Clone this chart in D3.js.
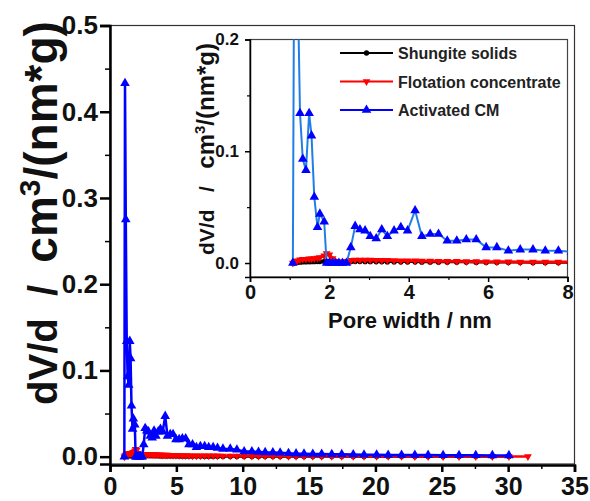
<!DOCTYPE html>
<html>
<head>
<meta charset="utf-8">
<script src="https://cdn.jsdelivr.net/npm/d3@7"></script>
<style>
  body { margin: 0; background: #fff; }
  text { font-family: Arial, 'Liberation Sans', sans-serif; font-weight: bold; white-space: pre; }
</style>
</head>
<body>
<div id="graph"></div>
<script>
'use strict';
// pore width grid (nm) shared by the three samples
var poreWidth = [1.08, 1.13, 1.19, 1.26, 1.33, 1.41, 1.49, 1.55, 1.62, 1.70, 1.76, 1.87, 1.93, 2.00,
  2.08, 2.16, 2.24, 2.33, 2.43, 2.54, 2.65, 2.77, 2.90, 3.03, 3.18, 3.32, 3.46, 3.63, 3.80, 3.97,
  4.16, 4.33, 4.54, 4.75, 4.97, 5.21, 5.45, 5.70, 5.95, 6.22, 6.51, 6.81, 7.13, 7.44, 7.77, 8.10,
  8.51, 9.06, 9.56, 10.11, 10.69, 11.19, 11.69, 12.27, 12.82, 13.45, 14.02, 14.62, 15.28, 15.95,
  16.71, 17.46, 18.33, 19.14, 20.09, 20.96, 21.97, 22.97, 23.97, 25.10, 26.30, 27.56, 28.81, 30.06];
// flotation concentrate has one more point at the end
var poreWidthTail = [31.49];

var shungite = [0, 0.0003, 0.0005, 0.0008, 0.001, 0.001, 0.0011, 0.0012, 0.0012, 0.0013, 0.0013, 0.0014,
  0.0015, 0.0014, 0.0012, 0.001, 0.0009, 0.0009, 0.001, 0.0012, 0.0013, 0.0013, 0.0012, 0.0012, 0.0011,
  0.0011, 0.001, 0.001, 0.0009, 0.0009, 0.0009, 0.0008, 0.0008, 0.0007, 0.0007, 0.0006, 0.0006, 0.0005,
  0.0005, 0.0004, 0.0004, 0.0004, 0.0003, 0.0003, 0.0003, 0.0003, 0.0003, 0.0002, 0.0002, 0.0002,
  0.0002, 0.0002, 0.0002, 0.0002, 0.0001, 0.0001, 0.0001, 0.0001, 0.0001, 0.0001, 0.0001, 0.0001,
  0.0001, 0.0001, 0.0001, 0.0001, 0.0001, 0.0001, 0.0001, 0.0001, 0.0001, 0.0001, 0.0001, 0.0001];

var flotation = [0, 0.001, 0.002, 0.003, 0.0035, 0.0035, 0.0038, 0.0038, 0.004, 0.0045, 0.005, 0.0065,
  0.0085, 0.0075, 0.004, 0.0015, 0.001, 0.0012, 0.0015, 0.0025, 0.0028, 0.0028, 0.0028, 0.0027, 0.0026,
  0.0025, 0.0024, 0.0022, 0.0021, 0.002, 0.002, 0.0019, 0.0018, 0.0017, 0.0016, 0.0015, 0.0014, 0.0013,
  0.0012, 0.0011, 0.0011, 0.001, 0.001, 0.001, 0.001, 0.001, 0.0009, 0.0009, 0.0009, 0.0008, 0.0008,
  0.0008, 0.0007, 0.0007, 0.0007, 0.0006, 0.0006, 0.0006, 0.0005, 0.0005, 0.0005, 0.0005, 0.0004,
  0.0004, 0.0004, 0.0004, 0.0004, 0.0003, 0.0003, 0.0003, 0.0003, 0.0003, 0.0003, 0.0003, 0.0003];

var activated = [0, 0.433, 0.275, 0.134, 0.093, 0.083, 0.134, 0.114, 0.059, 0.032, 0.044, 0.037, 0,
  0, 0, 0, 0, 0, 0, 0.014, 0.033, 0.030, 0.029, 0.024, 0.022, 0.030, 0.024, 0.029, 0.032, 0.029,
  0.047, 0.024, 0.026, 0.026, 0.020, 0.020, 0.021, 0.021, 0.014, 0.014, 0.011, 0.012, 0.012, 0.011,
  0.011, 0.010, 0.009, 0.009, 0.008, 0.006, 0.006, 0.0055, 0.005, 0.0048, 0.0045, 0.004, 0.0035,
  0.0033, 0.003, 0.003, 0.0028, 0.0027, 0.0025, 0.0023, 0.0022, 0.002, 0.002, 0.0019, 0.0018, 0.0017,
  0.0016, 0.0016, 0.0015, 0.0015];

var seriesNames = ['Shungite solids', 'Flotation concentrate', 'Activated CM'];
var mainXTicks = [0, 5, 10, 15, 20, 25, 30, 35];
var mainYTicks = [0, 0.1, 0.2, 0.3, 0.4, 0.5];
var insetXTicks = [0, 2, 4, 6, 8];
var insetYTicks = [0, 0.1, 0.2];

function pairs(xs, ys) {
  return ys.map(function(v, i) { return [xs[i], v]; });
}
var series = [
  { name: seriesNames[0], data: pairs(poreWidth, shungite), color: '#000', insetLine: '#000',
    symbol: d3.symbolCircle, size: 22, rot: 0 },
  { name: seriesNames[1], data: pairs(poreWidth.concat(poreWidthTail), flotation), color: '#ff0000',
    insetLine: '#ff0000', symbol: d3.symbolTriangle, size: 26, rot: 180 },
  { name: seriesNames[2], data: pairs(poreWidth, activated), color: '#0000ff', insetLine: '#1f7fe6',
    symbol: d3.symbolTriangle, size: 40, rot: 0 }
];

var svg = d3.select('#graph').append('svg')
  .attr('width', 590)
  .attr('height', 501);

// ---------- main plot ----------
var xScale = d3.scaleLinear().domain([0, 35]).range([110, 574.5]);
var yScale = d3.scaleLinear().domain([-0.0085, 0.5]).range([464, 25.5]);

// frame
svg.append('rect')
  .attr('x', 110).attr('y', 25.5)
  .attr('width', 464.5).attr('height', 438.5)
  .attr('fill', 'none')
  .attr('stroke', '#333')
  .attr('stroke-width', 1.2);

function styleAxis(g, fontSize, width) {
  g.select('.domain').attr('stroke', '#000').attr('stroke-width', width);
  g.selectAll('.tick line').attr('stroke', '#000').attr('stroke-width', width);
  g.selectAll('.tick text').attr('fill', '#111').style('font-size', fontSize + 'px');
}

var xAxisMain = svg.append('g')
  .attr('transform', 'translate(0,465)')
  .call(d3.axisBottom(xScale).tickValues(mainXTicks).tickSize(7).tickPadding(5).tickFormat(d3.format('d')));
styleAxis(xAxisMain, 25, 2.5);
var xMinorMain = svg.append('g')
  .attr('transform', 'translate(0,465)')
  .call(d3.axisBottom(xScale).tickValues([2.5, 7.5, 12.5, 17.5, 22.5, 27.5, 32.5]).tickSize(4).tickFormat(''));
styleAxis(xMinorMain, 1, 1.5);

var yAxisMain = svg.append('g')
  .attr('transform', 'translate(110,0)')
  .call(d3.axisLeft(yScale).tickValues(mainYTicks).tickSize(10).tickPadding(2).tickFormat(d3.format('.1f')));
styleAxis(yAxisMain, 26, 2.5);
var yMinorMain = svg.append('g')
  .attr('transform', 'translate(110,0)')
  .call(d3.axisLeft(yScale).tickValues([0.05, 0.15, 0.25, 0.35, 0.45]).tickSize(5).tickFormat(''));
styleAxis(yMinorMain, 1, 1.5);
yMinorMain.select('.domain').remove();
xMinorMain.select('.domain').remove();

// y axis title (the unit part is set larger, as in the original)
var mainTitle = svg.append('text')
  .attr('transform', 'translate(57,213) rotate(-90)')
  .attr('text-anchor', 'middle')
  .style('font-size', '40px')
  .attr('fill', '#111');
mainTitle.append('tspan').text('dV/d\u00a0\u00a0/\u00a0\u00a0');
mainTitle.append('tspan').style('font-size', '46px').text('cm');
mainTitle.append('tspan').attr('dy', -17).style('font-size', '30px').text('3');
mainTitle.append('tspan').attr('dy', 17).style('font-size', '46px').text('/(nm*g)');

// data
var lineMain = d3.line().x(function(d) { return xScale(d[0]); }).y(function(d) { return yScale(d[1]); });
series.forEach(function(s) {
  svg.append('path')
    .datum(s.data)
    .attr('d', lineMain)
    .attr('fill', 'none')
    .attr('stroke', s.color)
    .attr('stroke-width', 2.5);
  svg.append('g').selectAll('path')
    .data(s.data)
    .enter()
    .append('path')
    .attr('d', d3.symbol().type(s.symbol).size(s.size))
    .attr('fill', s.color)
    .attr('transform', function(d) {
      return 'translate(' + xScale(d[0]) + ',' + yScale(d[1]) + ') rotate(' + s.rot + ')';
    });
});

// ---------- inset ----------
var ixScale = d3.scaleLinear().domain([0, 8]).range([250, 567.5]);
var iyScale = d3.scaleLinear().domain([-0.0125, 0.2]).range([277, 39.5]);

svg.append('rect')
  .attr('x', 250).attr('y', 39.5)
  .attr('width', 317.5).attr('height', 237.5)
  .attr('fill', '#fff')
  .attr('stroke', '#444')
  .attr('stroke-width', 1.2);

svg.append('clipPath').attr('id', 'insetClip')
  .append('rect')
  .attr('x', 250).attr('y', 39.5)
  .attr('width', 317.5).attr('height', 237.5);

var ixAxis = svg.append('g')
  .attr('transform', 'translate(0,277)')
  .call(d3.axisBottom(ixScale).tickValues(insetXTicks).tickSize(5).tickPadding(3).tickFormat(d3.format('d')));
styleAxis(ixAxis, 20, 1.5);
var ixMinor = svg.append('g')
  .attr('transform', 'translate(0,277)')
  .call(d3.axisBottom(ixScale).tickValues([1, 3, 5, 7]).tickSize(3).tickFormat(''));
styleAxis(ixMinor, 1, 1.2);
ixMinor.select('.domain').remove();

var iyAxis = svg.append('g')
  .attr('transform', 'translate(250,0)')
  .call(d3.axisLeft(iyScale).tickValues(insetYTicks).tickSize(5).tickPadding(6).tickFormat(d3.format('.1f')));
styleAxis(iyAxis, 17, 1.5);
var iyMinor = svg.append('g')
  .attr('transform', 'translate(250,0)')
  .call(d3.axisLeft(iyScale).tickValues([0.05, 0.15]).tickSize(3).tickFormat(''));
styleAxis(iyMinor, 1, 1.2);
iyMinor.select('.domain').remove();

svg.append('text')
  .attr('x', 410).attr('y', 328)
  .attr('text-anchor', 'middle')
  .style('font-size', '22px')
  .attr('fill', '#111')
  .text('Pore width / nm');

var insetTitle = svg.append('text')
  .attr('transform', 'translate(214,149) rotate(-90)')
  .attr('text-anchor', 'middle')
  .style('font-size', '21px')
  .attr('fill', '#111');
insetTitle.append('tspan').text('dV/d\u00a0\u00a0\u00a0/\u00a0\u00a0\u00a0');
insetTitle.append('tspan').style('font-size', '24px').text('cm');
insetTitle.append('tspan').attr('dy', -9).style('font-size', '15px').text('3');
insetTitle.append('tspan').attr('dy', 9).style('font-size', '24px').text('/(nm*g)');

var insetData = svg.append('g').attr('clip-path', 'url(#insetClip)');
var lineInset = d3.line().x(function(d) { return ixScale(d[0]); }).y(function(d) { return iyScale(d[1]); });
series.forEach(function(s) {
  var pts = s.data.filter(function(d) { return d[0] <= 8.3; });
  insetData.append('path')
    .datum(pts)
    .attr('d', lineInset)
    .attr('fill', 'none')
    .attr('stroke', s.insetLine)
    .attr('stroke-width', s.name == seriesNames[1] ? 3 : 2);
  insetData.append('g').selectAll('path')
    .data(pts)
    .enter()
    .append('path')
    .attr('d', d3.symbol().type(s.symbol).size(s.size))
    .attr('fill', s.color)
    .attr('transform', function(d) {
      return 'translate(' + ixScale(d[0]) + ',' + iyScale(d[1]) + ') rotate(' + s.rot + ')';
    });
});

// legend
var legend = svg.append('g').attr('transform', 'translate(340,53)');
series.forEach(function(s, i) {
  var row = legend.append('g').attr('transform', 'translate(0,' + (i * 28.5) + ')');
  row.append('line')
    .attr('x1', 0).attr('x2', 53)
    .attr('stroke', s.color)
    .attr('stroke-width', 2);
  row.append('path')
    .attr('d', d3.symbol().type(s.symbol).size(s.size))
    .attr('fill', s.color)
    .attr('transform', 'translate(26.5,0) rotate(' + s.rot + ')');
  row.append('text')
    .attr('x', 58).attr('y', 6)
    .style('font-size', '16px')
    .attr('fill', '#222')
    .text(s.name);
});
</script>
</body>
</html>
